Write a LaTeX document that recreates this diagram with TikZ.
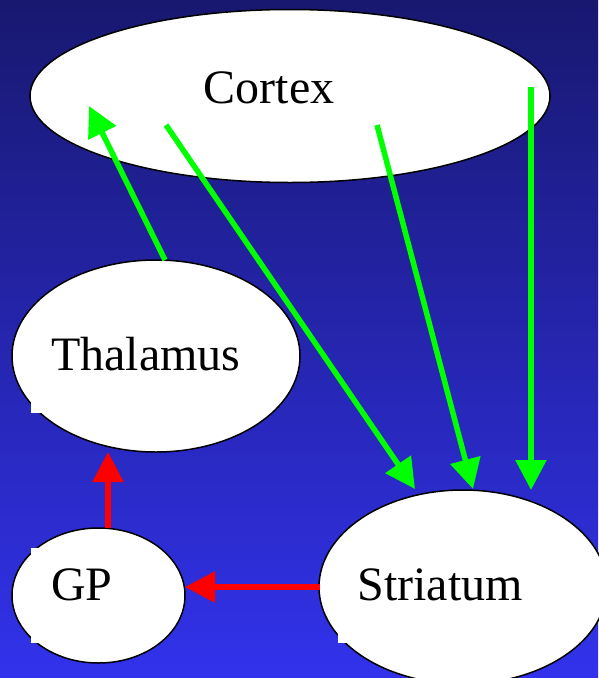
\documentclass[tikz,border=0pt]{standalone}
\usepackage{fontspec}
\setmainfont{Liberation Serif}
\usetikzlibrary{shapes.geometric,arrows.meta}

\definecolor{bgtop}{RGB}{24,24,112}
\definecolor{bgbottom}{RGB}{50,50,236}
\definecolor{excite}{RGB}{0,255,0}
\definecolor{inhibit}{RGB}{255,0,0}

\tikzset{
  region/.style={ellipse, draw=black, line width=1.5pt, fill=white, inner sep=0pt},
  labelbox/.style={fill=white, draw=none},
  label/.style={font=\fontsize{48}{57}\selectfont, anchor=base, inner sep=0pt},
  excitatory/.style={draw=excite, line width=5.5pt, -{Triangle[length=30pt,width=30pt]}},
  inhibitory/.style={draw=inhibit, line width=5.5pt, -{Triangle[length=30pt,width=30pt]}}
}

\begin{document}
\begin{tikzpicture}[x=1pt, y=-1pt]
  % backdrop
  \shade[top color=bgtop, bottom color=bgbottom] (0,0) rectangle (598,678);
  \useasboundingbox (0,0) rectangle (598,678);

  % brain regions
  \node[region, minimum width=520pt, minimum height=173pt] (cortex) at (290,96) {};
  \node[region, minimum width=288pt, minimum height=192pt] (thalamus) at (156,356) {};
  \node[region, minimum width=173pt, minimum height=135pt] (gp) at (98.5,595.5) {};
  \node[region, minimum width=288pt, minimum height=194pt] (striatum) at (463,587) {};

  % text boxes behind the labels
  \fill[labelbox] (31,318) rectangle (255,413);
  \fill[labelbox] (31,548) rectangle (125,643);
  \fill[labelbox] (338,548) rectangle (535,643);

  % labels
  \node[label] (cortexText) at (269,103) {Cortex};
  \node[label] (thalamusText) at (146,370) {Thalamus};
  \node[label] (gpText) at (82,600) {GP};
  \node[label] (striatumText) at (440,600) {Striatum};

  % connector end points
  \coordinate (thOut) at (165,260);
  \coordinate (cxIn) at (89,106);
  \coordinate (cxOutA) at (166,125);
  \coordinate (cxOutB) at (377,125);
  \coordinate (cxOutC) at (531,87);
  \coordinate (stInA) at (415,489);
  \coordinate (stInB) at (473,489);
  \coordinate (stInC) at (531,490);
  \coordinate (gpOut) at (108,528);
  \coordinate (thIn) at (108,452);
  \coordinate (stOut) at (320,587);
  \coordinate (gpIn) at (185,587);

  % excitatory pathways
  \draw[excitatory] (thOut) -- (cxIn);
  \draw[excitatory] (cxOutA) -- (stInA);
  \draw[excitatory] (cxOutB) -- (stInB);
  \draw[excitatory] (cxOutC) -- (stInC);

  % inhibitory pathways
  \draw[inhibitory] (gpOut) -- (thIn);
  \draw[inhibitory] (stOut) -- (gpIn);
\end{tikzpicture}
\end{document}
